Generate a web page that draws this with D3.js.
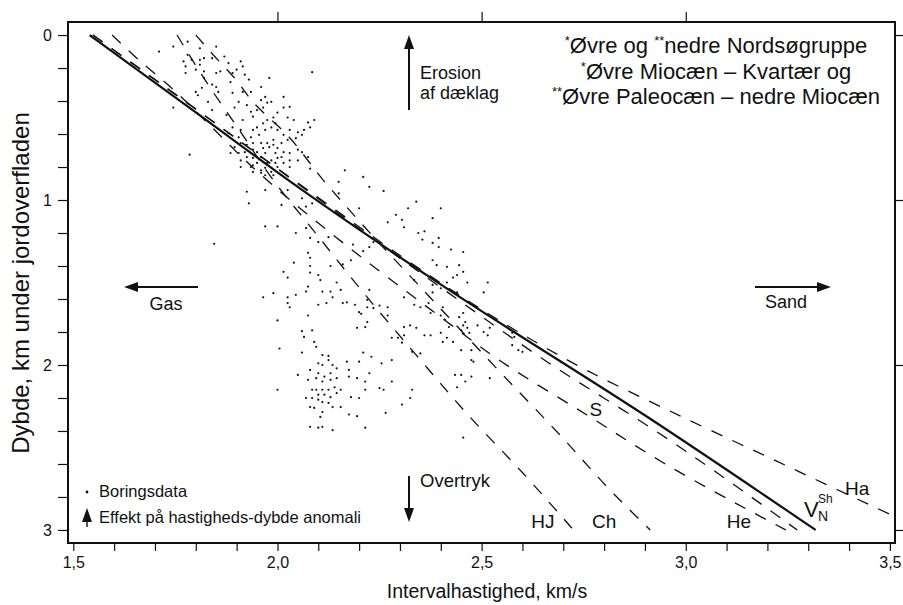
<!DOCTYPE html>
<html>
<head>
<meta charset="utf-8">
<script src="https://cdn.jsdelivr.net/npm/d3@7"></script>
<style>
body { margin: 0; background: #fff; }
svg text { font-family: "Liberation Sans", Arial, sans-serif; fill: #111; }
</style>
</head>
<body>
<svg id="chart" width="903" height="605"></svg>
<script>

// velocity-depth trends, [velocity km/s, depth km]
var trendVN = [[1.54,0],[1.79,0.45],[2.055,0.93],[2.42,1.545],[2.911,2.323],[3.318,3.0]];
var trendHa = [[1.548,0],[1.80,0.45],[2.08,0.95],[2.35,1.42],[2.594,1.806],[2.765,2.042],[2.945,2.26],[3.22,2.58],[3.5,2.905]];
var trendS  = [[1.548,0],[1.79,0.43],[2.06,0.92],[2.40,1.53],[2.66,1.98],[2.93,2.406],[3.273,3.0]];
var trendHe = [[1.595,0],[1.66,0.15],[1.74,0.32],[1.84,0.56],[1.93,0.78],[2.031,1.0],[2.183,1.303],[2.393,1.697],[2.55,1.982],[2.756,2.30],[2.942,2.588],[3.245,3.0]];
var trendCh = [[1.80,0],[1.843,0.121],[1.899,0.273],[1.938,0.40],[2.026,0.612],[2.112,0.879],[2.20,1.127],[2.37,1.58],[2.545,2.042],[2.694,2.43],[2.824,2.782],[2.913,3.0]];
var trendHJ = [[1.754,0],[1.83,0.30],[1.905,0.57],[1.99,0.88],[2.09,1.19],[2.21,1.56],[2.34,1.94],[2.467,2.303],[2.601,2.655],[2.725,3.0]];

// labels for the dashed trends [text, velocity, depth]
var trendLabels = [["Ha",3.42,2.79],["S",2.78,2.31],["He",3.13,2.99],["Ch",2.80,2.99],["HJ",2.65,2.99]];

// borings data, [velocity km/s, depth km]
var boringsdata = [
 [1.71,0.10],[1.745,0.07],[1.78,0.04],[1.81,0.08],[1.85,0.07],[1.77,0.16],[1.78,0.12],[1.79,0.15],[1.775,0.19],[1.81,0.15],
 [1.81,0.18],[1.80,0.21],[1.82,0.14],[1.84,0.14],[1.87,0.13],[1.88,0.17],[1.91,0.16],[1.915,0.19],[1.775,0.23],[1.82,0.22],
 [1.85,0.23],[1.86,0.22],[1.89,0.23],[1.90,0.21],[1.92,0.24],[1.93,0.27],[1.885,0.285],[1.82,0.26],[1.84,0.30],[1.85,0.315],
 [1.80,0.345],[1.815,0.32],[1.855,0.345],[1.89,0.35],[1.915,0.345],[1.935,0.345],[1.96,0.315],[1.98,0.26],[2.085,0.225],[1.745,0.44],
 [1.805,0.365],[1.83,0.405],[1.84,0.455],[1.875,0.485],[1.895,0.44],[1.905,0.405],[1.925,0.425],[1.935,0.465],[1.915,0.515],[1.94,0.495],
 [1.95,0.455],[1.965,0.44],[1.975,0.41],[1.96,0.395],[1.97,0.375],[1.985,0.405],[2.015,0.375],[2.015,0.44],[2.03,0.435],[2.025,0.50],
 [2.04,0.515],[2.0,0.47],[1.99,0.50],[1.975,0.515],[1.965,0.535],[1.95,0.56],[1.94,0.575],[1.91,0.575],[1.89,0.56],[1.88,0.595],
 [1.905,0.62],[1.935,0.62],[1.955,0.605],[1.97,0.575],[1.985,0.56],[1.995,0.535],[2.0,0.575],[2.015,0.605],[2.03,0.575],[2.05,0.59],
 [2.065,0.575],[2.075,0.53],[2.09,0.515],[2.08,0.56],[2.06,0.605],[2.045,0.625],[2.025,0.635],[2.01,0.655],[1.99,0.635],[1.975,0.655],
 [1.96,0.655],[1.94,0.655],[1.925,0.665],[1.91,0.655],[1.895,0.68],[1.885,0.715],[1.905,0.715],[1.92,0.71],[1.94,0.695],[1.95,0.71],
 [1.965,0.685],[1.98,0.68],[1.99,0.665],[2.0,0.685],[2.015,0.71],[2.03,0.715],[2.05,0.695],[2.06,0.71],[2.075,0.74],[2.05,0.76],
 [2.03,0.76],[2.01,0.74],[1.995,0.715],[1.97,0.715],[1.96,0.74],[1.94,0.745],[1.925,0.74],[1.91,0.76],[1.935,0.80],[1.95,0.775],
 [1.965,0.77],[1.985,0.76],[2.0,0.745],[2.015,0.775],[2.03,0.80],[2.0,0.80],[1.97,0.805],[1.91,0.80],[1.94,0.83],[1.96,0.835],
 [1.985,0.83],[1.785,0.725],[2.165,0.82],
 [1.94,0.79],[1.96,0.82],[1.97,0.85],[1.99,0.85],[1.975,0.775],[1.995,0.775],[2.08,0.81],
 [1.925,0.95],[1.93,1.02],[1.97,0.94],[2.01,1.03],[2.025,0.94],[2.06,0.99],[2.085,1.02],[2.07,1.04],[2.15,0.96],[2.15,0.89],
 [2.21,0.86],[2.225,0.92],[2.26,0.945],[2.20,1.05],[1.97,1.16],[2.0,1.16],[2.045,1.20],[2.08,1.23],[2.10,1.255],[2.125,1.225],
 [2.07,1.17],[2.075,1.32],[2.08,1.35],[2.16,1.39],[2.185,1.27],[2.21,1.31],[2.225,1.285],[2.18,1.365],[2.13,1.40],[2.08,1.40],
 [2.04,1.38],[2.015,1.435],[2.025,1.47],[2.08,1.44],[2.10,1.455],[2.105,1.485],[2.145,1.50],[2.155,1.545],[2.13,1.555],[2.11,1.555],
 [2.075,1.525],[2.07,1.555],[2.045,1.575],[2.025,1.59],[1.99,1.565],[1.965,1.59],[2.025,1.625],[2.03,1.65],[2.10,1.635],[2.12,1.625],
 [2.135,1.59],[2.16,1.625],[2.17,1.62],[2.19,1.635],[2.20,1.68],[2.205,1.69],[2.22,1.605],[2.225,1.545],[2.22,1.65],[2.235,1.655],
 [2.25,1.64],[2.27,1.65],[2.27,1.70],[2.0,1.73],[2.075,1.70],[2.195,1.775],[2.215,1.77],[2.22,1.74],[2.06,1.795],[2.085,1.79],
 [2.065,1.83],[2.09,1.86],[2.095,1.89],[2.005,1.90],[2.06,1.925],[2.11,1.94],[2.125,1.945],[2.21,1.925],[2.23,1.95],[2.255,1.99],
 [2.28,1.97],[2.33,1.92],[2.35,1.93],[2.31,1.77],[2.325,1.76],[2.34,1.775],[2.31,1.82],[2.295,1.835],[2.28,1.835],[2.305,1.865],
 [2.36,1.82],[2.375,1.82],
 [2.40,1.805],[2.42,1.77],[2.45,1.79],[2.455,1.76],[2.46,1.74],[2.465,1.775],[2.47,1.805],[2.445,1.71],[2.40,1.70],[2.41,1.725],
 [2.415,1.835],[2.405,1.86],[2.43,1.86],[2.45,1.91],[2.475,1.91],[2.48,1.98],[2.475,1.97],[2.49,1.76],[2.505,1.80],[2.515,1.82],
 [2.52,1.775],[2.45,2.06],[2.475,2.07],[2.52,2.08],[2.46,2.10],[2.44,2.135],[2.435,2.06],[2.575,1.805],[2.58,1.83],[2.59,1.91],
 [2.575,1.88],[2.60,1.92],[2.455,2.44],
 [2.34,1.01],[2.32,1.05],[2.40,1.05],[2.38,1.11],[2.36,1.19],[2.345,1.20],[2.355,1.24],[2.38,1.26],[2.395,1.23],[2.395,1.285],
 [2.425,1.30],[2.455,1.315],[2.38,1.365],[2.39,1.395],[2.415,1.405],[2.445,1.395],[2.455,1.435],[2.44,1.455],[2.43,1.47],[2.415,1.50],
 [2.40,1.535],[2.38,1.56],[2.38,1.515],[2.335,1.485],[2.335,1.635],[2.31,1.59],[2.35,1.65],[2.37,1.625],[2.375,1.685],[2.405,1.65],
 [2.44,1.56],[2.465,1.50],[2.505,1.56],[2.515,1.50],[2.455,1.685],[2.27,1.135],[2.29,1.09],[2.305,1.12],[2.31,1.165],[2.235,1.255],
 [2.10,1.99],[2.11,2.0],[2.125,1.97],[2.135,2.0],[2.145,2.02],[2.13,2.05],[2.115,2.07],[2.10,2.05],[2.095,2.08],[2.11,2.10],
 [2.13,2.09],[2.145,2.08],[2.14,2.135],[2.125,2.15],[2.11,2.15],[2.095,2.15],[2.10,2.18],[2.115,2.18],[2.13,2.195],[2.145,2.17],
 [2.155,2.15],[2.175,2.07],[2.175,2.03],[2.17,1.98],[2.20,1.98],[2.195,2.08],[2.215,2.10],[2.225,2.05],[2.215,2.15],[2.18,2.195],
 [2.20,2.20],[2.25,2.14],[2.26,2.15],[2.28,2.10],[2.33,2.15],[2.325,2.20],[2.305,2.24],[2.265,2.29],[2.215,2.38],[2.195,2.31],
 [2.175,2.30],[2.155,2.255],[2.135,2.255],[2.125,2.23],[2.11,2.225],[2.10,2.21],[2.085,2.20],[2.07,2.20],[2.08,2.255],[2.09,2.26],
 [2.11,2.285],[2.105,2.315],[2.08,2.375],[2.10,2.38],[2.11,2.375],[2.135,2.395],[2.075,2.09],[2.085,2.15],[2.08,2.03],[2.05,2.06],
 [2.0,2.15],[1.845,1.265]
];

// axis ticks
var xMajor = [1.5, 2.0, 2.5, 3.0, 3.5];
var xMinor = d3.range(15, 36).map(function(d){ return d / 10; });
var yMajor = [0, 1, 2, 3];
var yMinor = d3.range(0, 16).map(function(d){ return d / 5; });
var xTopTicks = [2.0, 2.5, 3.0];

// legend lines top right
var legendLines = [
  [["*", true], ["Øvre og ", false], ["**", true], ["nedre Nordsøgruppe", false]],
  [["*", true], ["Øvre Miocæn – Kvartær og", false]],
  [["**", true], ["Øvre Paleocæn – nedre Miocæn", false]]
];


var svg = d3.select("#chart");

// plot frame
var plotLeft = 68, plotRight = 895, plotTop = 22, plotBottom = 543;

var x = d3.scaleLinear().domain([1.487, 3.5125]).range([plotLeft, plotRight]);
var y = d3.scaleLinear().domain([-0.079, 3.079]).range([plotTop, plotBottom]);

svg.append("clipPath").attr("id", "clip")
   .append("rect")
   .attr("x", plotLeft).attr("y", plotTop)
   .attr("width", plotRight - plotLeft).attr("height", plotBottom - plotTop);

var fmt = function(d){ return d3.format(".1f")(d).replace(".", ","); };

// bottom axis, minor ticks everywhere, labels on major
svg.append("g")
   .attr("transform", "translate(0," + plotBottom + ")")
   .call(d3.axisBottom(x).tickValues(xMinor).tickSize(8).tickPadding(6)
     .tickFormat(function(d){ return xMajor.indexOf(Math.round(d*10)/10) >= 0 ? fmt(d) : ""; }));

// left axis
svg.append("g")
   .attr("transform", "translate(" + plotLeft + ",0)")
   .call(d3.axisLeft(y).tickValues(yMinor).tickSize(10).tickPadding(6)
     .tickFormat(function(d){ return yMajor.indexOf(d) >= 0 ? d : ""; }));

// top and right ticks, no labels
svg.append("g")
   .attr("transform", "translate(0," + plotTop + ")")
   .call(d3.axisTop(x).tickValues(xTopTicks).tickSize(10).tickFormat(""));

svg.append("g")
   .attr("transform", "translate(" + plotRight + ",0)")
   .call(d3.axisRight(y).tickValues(yMajor).tickSize(10).tickFormat(""));

svg.selectAll(".domain").remove();
svg.selectAll(".tick line").attr("stroke", "#111").attr("stroke-width", 1.2);
svg.selectAll(".tick text").style("font-size", "16px").attr("fill", "#111");

svg.append("rect")
   .attr("x", plotLeft).attr("y", plotTop)
   .attr("width", plotRight - plotLeft).attr("height", plotBottom - plotTop)
   .attr("fill", "none").attr("stroke", "#111").attr("stroke-width", 2);

// axis titles
svg.append("text")
   .attr("x", 487).attr("y", 598)
   .attr("text-anchor", "middle")
   .style("font-size", "19.5px")
   .text("Intervalhastighed, km/s");

svg.append("text")
   .attr("transform", "translate(29,283) rotate(-90)")
   .attr("text-anchor", "middle")
   .style("font-size", "24px")
   .text("Dybde, km under jordoverfladen");


// trend lines
var line = d3.line()
   .x(function(d){ return x(d[0]); })
   .y(function(d){ return y(d[1]); })
   .curve(d3.curveMonotoneY);

var plot = svg.append("g").attr("clip-path", "url(#clip)");

[trendHa, trendS, trendHe, trendCh, trendHJ].forEach(function(t){
	plot.append("path")
	    .datum(t)
	    .attr("d", line)
	    .attr("fill", "none")
	    .attr("stroke", "#111")
	    .attr("stroke-width", 1.3)
	    .attr("stroke-dasharray", "12,11");
});

plot.append("path")
    .datum(trendVN)
    .attr("d", line)
    .attr("fill", "none")
    .attr("stroke", "#111")
    .attr("stroke-width", 2.2);

// borings data
plot.selectAll("circle.pt")
    .data(boringsdata)
    .enter()
    .append("circle")
    .attr("class", "pt")
    .attr("cx", function(d){ return x(d[0]); })
    .attr("cy", function(d){ return y(d[1]); })
    .attr("r", 1.1)
    .attr("fill", "#111");

// trend labels
svg.selectAll("text.tl")
   .data(trendLabels)
   .enter()
   .append("text")
   .attr("class", "tl")
   .attr("x", function(d){ return x(d[1]); })
   .attr("y", function(d){ return y(d[2]); })
   .attr("text-anchor", "middle")
   .style("font-size", "19px")
   .text(function(d){ return d[0]; });

// V_N^Sh label
var vn = svg.append("text").attr("x", 804).attr("y", 517).style("font-size", "22px");
vn.append("tspan").text("V");
vn.append("tspan").attr("x", 818).attr("y", 503).style("font-size", "12px").text("Sh");
vn.append("tspan").attr("x", 818).attr("y", 521).style("font-size", "14px").text("N");

// arrows
function arrow(x1, y1, x2, y2, w) {
	var ang = Math.atan2(y2 - y1, x2 - x1);
	var len = 14, half = 5;
	var bx = x2 - len * Math.cos(ang), by = y2 - len * Math.sin(ang);
	svg.append("line")
	   .attr("x1", x1).attr("y1", y1).attr("x2", bx).attr("y2", by)
	   .attr("stroke", "#111").attr("stroke-width", w);
	var px = -Math.sin(ang) * half, py = Math.cos(ang) * half;
	svg.append("path")
	   .attr("d", "M" + x2 + "," + y2 + "L" + (bx + px) + "," + (by + py) + "L" + (bx - px) + "," + (by - py) + "Z")
	   .attr("fill", "#111");
}

arrow(409, 110, 409, 35, 2);
arrow(409, 476, 409, 522, 2);
arrow(198, 287, 124, 287, 2);
arrow(755, 287, 831, 287, 2);

svg.append("text").attr("x", 420).attr("y", 79).style("font-size", "18px").text("Erosion");
svg.append("text").attr("x", 420).attr("y", 99).style("font-size", "18px").text("af dæklag");

svg.append("text").attr("x", 420).attr("y", 487).style("font-size", "18.5px").text("Overtryk");
svg.append("text").attr("x", 166).attr("y", 310).attr("text-anchor", "middle").style("font-size", "18px").text("Gas");
svg.append("text").attr("x", 786).attr("y", 308).attr("text-anchor", "middle").style("font-size", "18px").text("Sand");

// legend top right
legendLines.forEach(function(parts, i){
	var t = svg.append("text")
	   .attr("x", 716).attr("y", 53 + i * 25.5)
	   .attr("text-anchor", "middle")
	   .style("font-size", "22px");
	var up = false;
	parts.forEach(function(p){
		var dy = 0;
		if (p[1] && !up) { dy = -8; up = true; }
		else if (!p[1] && up) { dy = 8; up = false; }
		t.append("tspan").attr("dy", dy)
		 .style("font-size", p[1] ? "13px" : "22px")
		 .text(p[0]);
	});
});

// legend bottom left
svg.append("circle").attr("cx", 87).attr("cy", 492).attr("r", 1.4).attr("fill", "#111");
svg.append("text").attr("x", 99).attr("y", 497).style("font-size", "16.5px").text("Boringsdata");
arrow(87, 527, 87, 508, 1.4);
svg.append("text").attr("x", 99).attr("y", 523).style("font-size", "16.5px").text("Effekt på hastigheds-dybde anomali");

</script>
</body>
</html>
